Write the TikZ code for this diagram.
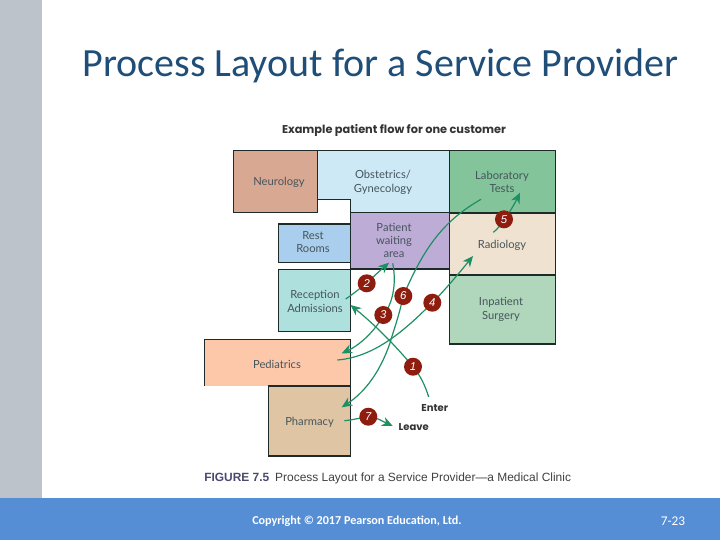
\documentclass[tikz,border=0pt]{standalone}
\usepackage{fontspec}
\setmainfont{Carlito}
\newfontfamily\roomfont{Lato}
\newfontfamily\headfont{Poppins}
\newfontfamily\capfont{Liberation Sans}
\usetikzlibrary{arrows.meta}
\definecolor{band}{HTML}{BDC3CB}
\definecolor{foot}{HTML}{558ED5}
\definecolor{titleblue}{HTML}{1F4E79}
\definecolor{edge}{HTML}{1C2A2A}
\definecolor{flow}{HTML}{1E8F63}
\definecolor{stepred}{HTML}{8E1D10}
\definecolor{roomtext}{HTML}{46555C}
\definecolor{figlabel}{HTML}{4A4A70}
\tikzset{
  room/.style={draw=edge,line width=0.8pt,line join=miter},
  roomlabel/.style={font=\roomfont\fontsize{8.4}{9.9}\selectfont,text=roomtext,align=center,inner sep=0pt,yshift=-0.7pt},
  flowline/.style={draw=flow,line width=0.9pt,-{Stealth[length=8pt,width=7pt,inset=2.5pt]}},
  stepdot/.style={circle,minimum size=13.5pt,inner sep=0pt,fill=stepred,text=white,
     font=\capfont\itshape\fontsize{8.5}{9}\selectfont},
  marklabel/.style={font=\headfont\bfseries\fontsize{7.5}{9}\selectfont,text=black!80,inner sep=0pt}
}
\begin{document}
\begin{tikzpicture}[x=0.75pt,y=-0.75pt]
\useasboundingbox (0,0) rectangle (720,540);
\fill[white] (0,0) rectangle (720,540);
\fill[band] (0,0) rectangle (42,498);
\fill[foot] (0,498) rectangle (720,540);
\node[anchor=center,text=titleblue,font=\fontsize{30}{33}\selectfont,inner sep=0pt] (title) at (380.5,66) {Process Layout for a Service Provider};
\node[font=\headfont\bfseries\fontsize{8.5}{10}\selectfont,text=black!80,inner sep=0pt] (head) at (394,130) {Example patient flow for one customer};

% rooms
\path[room,fill={rgb,255:red,205;green,233;blue,245}] (317.3,150.7) -- (449.5,150.7) -- (449.5,212.5) -- (350.5,212.5) -- (350.5,199.5) -- (317.3,199.5) -- cycle;
\path[room,fill={rgb,255:red,216;green,168;blue,146}] (233.3,150.7) rectangle (317.3,212.3);
\path[room,fill={rgb,255:red,131;green,196;blue,155}] (449.5,150.7) rectangle (555.5,213);
\path[room,fill={rgb,255:red,240;green,226;blue,208}] (449.5,213.5) rectangle (555.5,275);
\path[room,fill={rgb,255:red,176;green,215;blue,187}] (449.5,275) rectangle (555.5,344);
\path[room,fill={rgb,255:red,189;green,172;blue,214}] (350.5,212.5) rectangle (449.5,269);
\path[room,fill={rgb,255:red,169;green,206;blue,238}] (278.5,224) rectangle (350.5,262.5);
\path[room,fill={rgb,255:red,174;green,224;blue,222}] (278.5,269.5) rectangle (350.5,331.5);
\fill[fill={rgb,255:red,253;green,200;blue,170}] (204.3,339.5) rectangle (350.5,386);
\draw[room] (204.3,386) -- (204.3,339.5) -- (350.5,339.5) -- (350.5,386);
\path[room,fill={rgb,255:red,224;green,197;blue,165}] (268.5,386) rectangle (350.5,456);
\draw[edge,line width=1.2pt] (449.5,213.2) -- (555.5,213.2);

% room labels
\node[roomlabel] (neuro) at (279,181) {Neurology};
\node[roomlabel] (obst) at (383,181.5) {Obstetrics/\\Gynecology};
\node[roomlabel] (lab) at (502,181) {Laboratory\\Tests};
\node[roomlabel] (radio) at (502,244) {Radiology};
\node[roomlabel] (surg) at (501,308.5) {Inpatient\\Surgery};
\node[roomlabel] (wait) at (394,239.5) {Patient\\waiting\\area};
\node[roomlabel] (rest) at (313,241) {Rest\\Rooms};
\node[roomlabel] (recep) at (315,300.5) {Reception\\Admissions};
\node[roomlabel] (pedi) at (277,363) {Pediatrics};
\node[roomlabel] (pharm) at (309.5,421.5) {Pharmacy};

\node[marklabel] (enter) at (434.7,407.7) {Enter};
\node[marklabel] (leave) at (413.7,426.7) {Leave};

% connector ends and bends
\coordinate (p1) at (413,366.7);
\coordinate (p2) at (366.7,283.3);
\coordinate (p3) at (383.3,315);
\coordinate (p4) at (432.3,302.7);
\coordinate (p5) at (504,219.3);
\coordinate (p6) at (403.3,296);
\coordinate (p7) at (368.3,416.7);
\coordinate (a1) at (428.7,397);
\coordinate (b1) at (350.5,305);
\coordinate (a2) at (345.7,299);
\coordinate (b2) at (389,262.7);
\coordinate (a3) at (392.7,263.3);
\coordinate (b3) at (341.7,353.3);
\coordinate (a4) at (337.3,360);
\coordinate (b4) at (473,256);
\coordinate (a5) at (493.3,232.3);
\coordinate (b5) at (520,192.7);
\coordinate (a6) at (481,199.3);
\coordinate (m6) at (390,343);
\coordinate (b6) at (341.7,407.3);
\coordinate (a7) at (344.3,420.7);
\coordinate (b7) at (392.7,426);

\draw[flowline] (a1) .. controls (425,385) and (420,375) .. (p1) .. controls (395,345) and (375,325) .. (b1);
\draw[flowline] (a2) .. controls (362,288) and (375,275) .. (b2);
\draw[flowline] (a3) .. controls (397,285) and (392,305) .. (p3) .. controls (376,330) and (360,345) .. (b3);
\draw[flowline] (a4) .. controls (375,357) and (405,330) .. (p4) .. controls (445,290) and (460,272) .. (b4);
\draw[flowline] (a5) .. controls (498,229) and (501,224) .. (p5) .. controls (510,212) and (515,203) .. (b5);
\draw[flowline] (a6) .. controls (445,220) and (425,245) .. (p6) .. controls (398,320) and (392,335) .. (m6) .. controls (380,372) and (365,392) .. (b6);
\draw[flowline] (a7) .. controls (352,420) and (360,418) .. (p7) .. controls (376,417) and (382,421) .. (b7);

% step markers, on top of the lines
\node[stepdot] (s1) at (p1) {1};
\node[stepdot] (s2) at (p2) {2};
\node[stepdot] (s3) at (p3) {3};
\node[stepdot] (s4) at (p4) {4};
\node[stepdot] (s5) at (p5) {5};
\node[stepdot] (s6) at (p6) {6};
\node[stepdot] (s7) at (p7) {7};

\node[font=\capfont\fontsize{8.95}{10}\selectfont,text=black!75,inner sep=0pt,anchor=west] (cap) at (204,478) {{\bfseries\color{figlabel}FIGURE 7.5}\enspace Process Layout for a Service Provider—a Medical Clinic};
\node[font=\bfseries\fontsize{9.1}{10}\selectfont,text=white,inner sep=0pt,anchor=west] (copy) at (252,521) {Copyright © 2017 Pearson Education, Ltd.};
\node[font=\fontsize{10}{10}\selectfont,text=white,inner sep=0pt,anchor=west] (page) at (660.5,521) {7-23};
\end{tikzpicture}
\end{document}
